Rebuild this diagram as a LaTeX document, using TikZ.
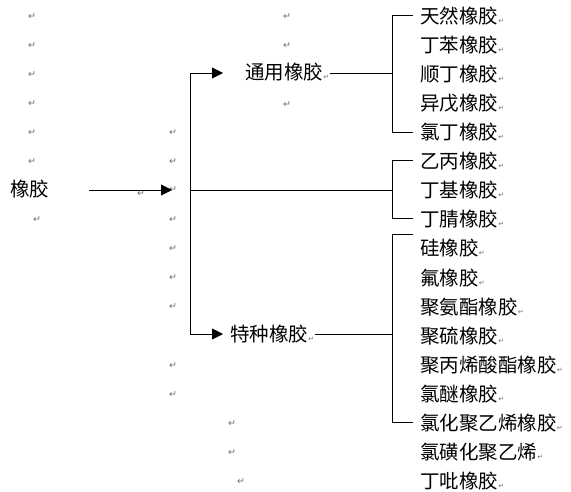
\documentclass[tikz,border=0pt]{standalone}
\usepackage{fontspec}
\newfontfamily\cjk{Noto Sans CJK SC}
\newfontfamily\symf{DejaVu Sans}
\usetikzlibrary{arrows.meta}
\definecolor{markgray}{RGB}{110,110,110}
\newcommand{\pmk}{{\color{markgray}\symf\fontsize{7}{7}\selectfont ↵}}
\begin{document}
\begin{tikzpicture}[x=1pt,y=-1pt,line width=0.9pt,
  lbl/.style={anchor=base west,inner sep=0pt,font=\cjk\fontsize{19.5}{19.5}\selectfont},
  pmark/.style={anchor=center,inner sep=0pt,text=markgray,font=\symf\fontsize{9.5}{9.5}\selectfont},
  tip/.style={-{Triangle[length=11pt,width=11pt]}}]
\useasboundingbox (0,0) rectangle (571,492);
% paragraph marks
\foreach \y [count=\i] in {17,46,75,104,133,162} \node[pmark] (pl\i) at (32,\y) {↵};
\node[pmark] (pl7) at (37,220) {↵};
\node[pmark] (pa) at (141,194) {↵};
\foreach \y [count=\i] in {133,162,190,220,249,278,307,366,395} \node[pmark] (pc\i) at (173,\y) {↵};
\node[pmark] (pd1) at (232,424) {↵};
\node[pmark] (pd2) at (232,453) {↵};
\node[pmark] (pd3) at (241,482) {↵};
\node[pmark] (pt1) at (287,17) {↵};
\node[pmark] (pt2) at (287,46) {↵};
\node[pmark] (pt3) at (287,105) {↵};
% main labels
\node[lbl] (xj) at (10,197) {橡胶};
\node[lbl] (ty) at (245,80) {通用橡胶\pmk};
\node[lbl] (tz) at (230,341) {特种橡胶\pmk};
% right column
\foreach \t [count=\i from 0] in {天然橡胶,丁苯橡胶,顺丁橡胶,异戊橡胶,氯丁橡胶,乙丙橡胶,丁基橡胶,丁腈橡胶,硅橡胶,氟橡胶,聚氨酯橡胶,聚硫橡胶,聚丙烯酸酯橡胶,氯醚橡胶,氯化聚乙烯橡胶,氯磺化聚乙烯,丁吡橡胶}
  \node[lbl] (r\i) at (420,{24+29*\i}) {\t\pmk};
% coordinates
\coordinate (a0) at (89,190);
\coordinate (a1) at (172,190);
\coordinate (v0) at (190,73);
\coordinate (vm) at (190,190);
\coordinate (v1) at (190,334);
\coordinate (t1) at (223,73);
\coordinate (s1) at (223,334);
\coordinate (b1m) at (392,73);
\coordinate (b2m) at (392,190);
\coordinate (b3m) at (392,334);
% connectors
\draw[tip] (a0) -- (a1);
\draw[{Triangle[length=11pt,width=11pt]}-{Triangle[length=11pt,width=11pt]}] (s1) -- (v1) -- (v0) -- (t1);
\draw (vm) -- (b2m);
\draw (ty.east |- b1m) -- (b1m);
\draw (tz.east |- b3m) -- (b3m);
% brackets
\draw (413,15) -- (392,15) -- (392,132) -- (413,132);
\draw (413,160) -- (392,160) -- (392,218) -- (413,218);
\draw (413,234) -- (392,234) -- (392,422) -- (413,422);
\end{tikzpicture}
\end{document}
